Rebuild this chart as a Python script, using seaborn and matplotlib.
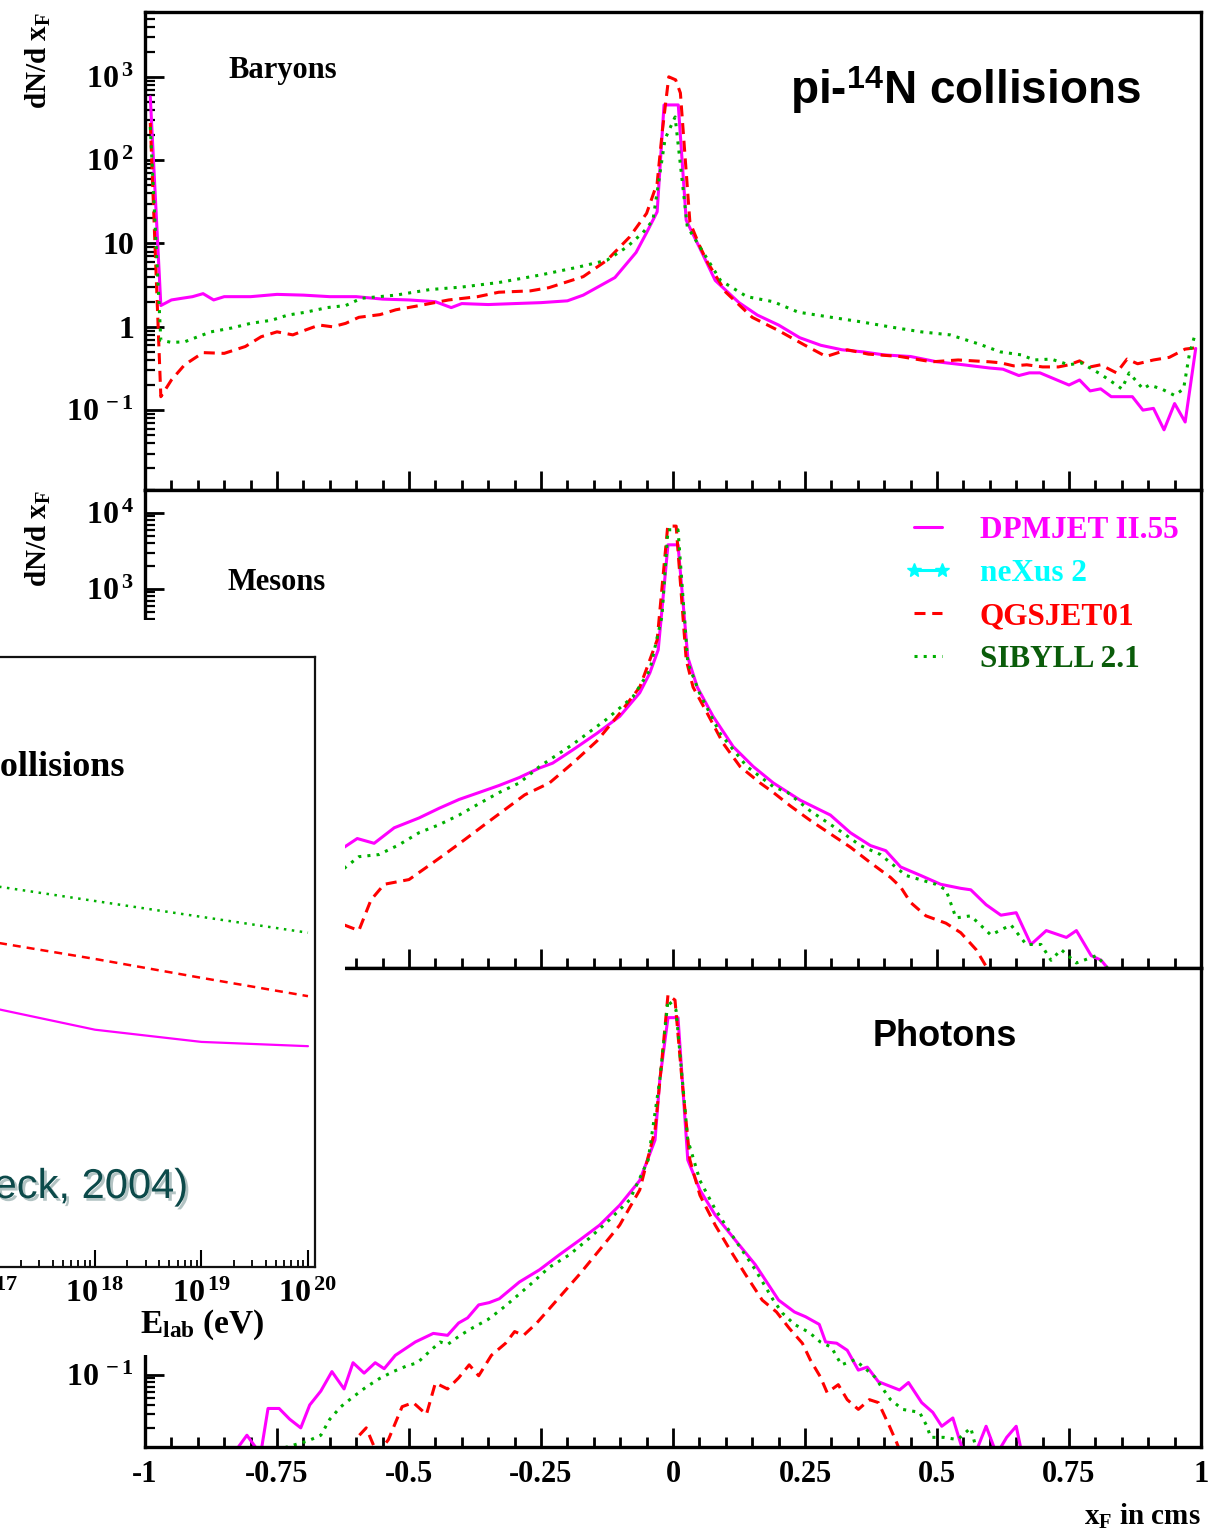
import numpy as np
import matplotlib
matplotlib.use("Agg")
import matplotlib.pyplot as plt
import matplotlib.ticker as mticker
import matplotlib.patheffects as pe
from matplotlib.lines import Line2D
from matplotlib.patches import Rectangle
import seaborn as sns

# ---------------- dN/dxF versus xF, pi-14N collisions ----------------
# Baryons
bar_x_dpm = [-0.99, -0.97, -0.95, -0.93, -0.91, -0.89, -0.87, -0.85, -0.80, -0.75,
             -0.70, -0.65, -0.60, -0.55, -0.50, -0.45, -0.42, -0.40, -0.35, -0.30,
             -0.25, -0.20, -0.17, -0.11, -0.07, -0.05, -0.03, -0.017, 0.01, 0.025,
             0.05, 0.08, 0.125, 0.16, 0.20, 0.24, 0.28, 0.32, 0.36, 0.40,
             0.45, 0.50, 0.55, 0.60, 0.625, 0.655, 0.675, 0.695, 0.75, 0.77,
             0.79, 0.81, 0.83, 0.87, 0.89, 0.91, 0.93, 0.95, 0.97, 0.99]
bar_dpm = [575, 1.8, 2.1, 2.2, 2.3, 2.5, 2.1, 2.3, 2.3, 2.45,
           2.4, 2.3, 2.3, 2.15, 2.1, 2.0, 1.7, 1.9, 1.85, 1.9,
           1.95, 2.05, 2.4, 3.9, 7.8, 13.5, 24, 460, 460, 19,
           9.0, 3.6, 1.95, 1.38, 1.05, 0.74, 0.60, 0.53, 0.50, 0.46,
           0.44, 0.38, 0.35, 0.32, 0.31, 0.26, 0.28, 0.28, 0.20, 0.23,
           0.17, 0.18, 0.145, 0.145, 0.10, 0.105, 0.058, 0.12, 0.072, 0.55]

bar_x_qgs = [-0.99, -0.97, -0.95, -0.925, -0.89, -0.85, -0.81, -0.78, -0.75, -0.72,
             -0.695, -0.67, -0.645, -0.62, -0.595, -0.555, -0.525, -0.48, -0.425, -0.37,
             -0.33, -0.27, -0.235, -0.17, -0.125, -0.082, -0.05, -0.03, -0.02, -0.008,
             0.005, 0.014, 0.032, 0.05, 0.065, 0.10, 0.15, 0.20, 0.25, 0.29,
             0.33, 0.37, 0.43, 0.49, 0.54, 0.60, 0.62, 0.645, 0.67, 0.70,
             0.73, 0.75, 0.77, 0.79, 0.81, 0.84, 0.86, 0.88, 0.91, 0.94,
             0.97, 0.99]
bar_qgs = [280, 0.145, 0.23, 0.35, 0.49, 0.48, 0.58, 0.76, 0.87, 0.80,
           0.92, 1.05, 1.0, 1.1, 1.3, 1.4, 1.6, 1.8, 2.1, 2.3,
           2.6, 2.7, 2.95, 4.0, 6.3, 12, 23, 53, 230, 1000,
           920, 640, 18, 9.5, 6.0, 2.6, 1.3, 0.90, 0.60, 0.44,
           0.53, 0.47, 0.44, 0.38, 0.40, 0.38, 0.37, 0.34, 0.35, 0.33,
           0.33, 0.35, 0.39, 0.33, 0.35, 0.28, 0.41, 0.36, 0.40, 0.43,
           0.54, 0.56]

bar_x_sib = [-0.99, -0.97, -0.95, -0.925, -0.90, -0.875, -0.835, -0.80, -0.76, -0.73,
             -0.695, -0.655, -0.62, -0.59, -0.525, -0.46, -0.40, -0.33, -0.25, -0.18,
             -0.125, -0.087, -0.057, -0.038, -0.015, 0.004, 0.027, 0.09, 0.14, 0.19,
             0.237, 0.30, 0.355, 0.41, 0.47, 0.525, 0.58, 0.62, 0.66, 0.684,
             0.716, 0.75, 0.773, 0.79, 0.81, 0.84, 0.85, 0.864, 0.89, 0.902,
             0.925, 0.95, 0.967, 0.978, 0.988]
bar_sib = [250, 0.69, 0.65, 0.66, 0.76, 0.87, 0.97, 1.1, 1.2, 1.38,
           1.5, 1.7, 1.8, 2.2, 2.4, 2.8, 3.0, 3.4, 4.2, 5.2,
           6.3, 9.1, 13.5, 19, 180, 330, 16, 3.6, 2.3, 2.0,
           1.5, 1.3, 1.15, 1.0, 0.87, 0.80, 0.62, 0.50, 0.46, 0.40,
           0.41, 0.35, 0.37, 0.32, 0.27, 0.20, 0.18, 0.28, 0.18, 0.20,
           0.18, 0.15, 0.18, 0.47, 0.78]

# Mesons
mes_x_dpm = [-0.625, -0.598, -0.566, -0.528, -0.481, -0.443, -0.405, -0.367, -0.329, -0.291,
             -0.253, -0.228, -0.19, -0.144, -0.101, -0.063, -0.044, -0.028, -0.0095, 0.0095,
             0.028, 0.046, 0.076, 0.114, 0.152, 0.19, 0.218, 0.241, 0.298, 0.336,
             0.374, 0.403, 0.431, 0.469, 0.507, 0.545, 0.564, 0.593, 0.621, 0.65,
             0.678, 0.707, 0.745, 0.764, 0.792, 0.811, 0.83]
mes_dpm = [0.39, 0.52, 0.45, 0.72, 0.97, 1.3, 1.7, 2.1, 2.6, 3.3,
           4.4, 5.1, 7.6, 12.6, 21, 43, 78, 158, 3800, 3800,
           126, 51, 21, 8.4, 4.6, 2.8, 2.1, 1.66, 1.06, 0.62,
           0.42, 0.36, 0.22, 0.17, 0.13, 0.115, 0.11, 0.07, 0.051, 0.055,
           0.021, 0.032, 0.026, 0.032, 0.015, 0.013, 0.009]

mes_x_qgs = [-0.623, -0.595, -0.572, -0.547, -0.50, -0.462, -0.433, -0.395, -0.357, -0.319,
             -0.281, -0.234, -0.19, -0.144, -0.101, -0.063, -0.049, -0.03, -0.01, 0.006,
             0.025, 0.038, 0.065, 0.095, 0.127, 0.165, 0.19, 0.222, 0.26, 0.298,
             0.336, 0.374, 0.412, 0.431, 0.45, 0.479, 0.517, 0.545, 0.574, 0.60]
mes_qgs = [0.038, 0.032, 0.081, 0.13, 0.15, 0.23, 0.32, 0.50, 0.79, 1.24,
           1.95, 2.8, 5.1, 10, 23, 51, 93, 213, 6700, 6700,
           117, 51, 23, 9.3, 4.6, 2.8, 2.1, 1.4, 0.90, 0.60,
           0.40, 0.25, 0.16, 0.12, 0.075, 0.05, 0.04, 0.03, 0.018, 0.009]

mes_x_sib = [-0.623, -0.595, -0.557, -0.519, -0.481, -0.443, -0.405, -0.367, -0.329, -0.291,
             -0.253, -0.19, -0.127, -0.076, -0.044, -0.021, -0.0095, 0.0095, 0.028, 0.05,
             0.089, 0.14, 0.19, 0.217, 0.26, 0.317, 0.355, 0.393, 0.441, 0.498,
             0.517, 0.536, 0.564, 0.602, 0.64, 0.669, 0.697, 0.716, 0.735, 0.764,
             0.802, 0.83]
mes_sib = [0.21, 0.30, 0.32, 0.43, 0.62, 0.79, 1.06, 1.5, 2.1, 2.8,
           4.6, 9.0, 19, 38, 85, 430, 6000, 6000, 107, 43,
           12.6, 4.6, 2.5, 2.1, 1.2, 0.65, 0.42, 0.32, 0.17, 0.13,
           0.11, 0.047, 0.05, 0.028, 0.038, 0.021, 0.021, 0.013, 0.018, 0.012,
           0.015, 0.009]

# Photons
pho_x_dpm = [-0.824, -0.807, -0.781, -0.767, -0.746, -0.726, -0.705, -0.688, -0.667, -0.646,
             -0.623, -0.606, -0.585, -0.564, -0.547, -0.526, -0.488, -0.454, -0.427, -0.406,
             -0.389, -0.368, -0.348, -0.329, -0.291, -0.253, -0.215, -0.177, -0.139, -0.101,
             -0.063, -0.034, -0.025, -0.0095, 0.0095, 0.028, 0.051, 0.08, 0.118, 0.156,
             0.20, 0.23, 0.251, 0.277, 0.289, 0.31, 0.33, 0.351, 0.368, 0.389,
             0.429, 0.446, 0.471, 0.492, 0.509, 0.53, 0.551, 0.572, 0.593, 0.613,
             0.632, 0.65, 0.661]
pho_dpm = [0.011, 0.016, 0.009, 0.036, 0.036, 0.026, 0.020, 0.040, 0.061, 0.11,
           0.065, 0.144, 0.105, 0.144, 0.12, 0.18, 0.27, 0.35, 0.33, 0.48,
           0.56, 0.83, 0.89, 1.0, 1.66, 2.4, 3.8, 5.9, 9.3, 17,
           36, 123, 760, 5000, 5000, 67, 27, 12.6, 5.9, 2.8,
           0.96, 0.67, 0.58, 0.46, 0.27, 0.26, 0.21, 0.115, 0.126, 0.081,
           0.063, 0.079, 0.043, 0.032, 0.021, 0.027, 0.009, 0.009, 0.021, 0.009,
           0.015, 0.021, 0.009]

pho_x_qgs = [-0.594, -0.581, -0.56, -0.539, -0.513, -0.492, -0.467, -0.45, -0.427, -0.406,
             -0.386, -0.368, -0.344, -0.317, -0.30, -0.283, -0.258, -0.224, -0.177, -0.139,
             -0.101, -0.063, -0.034, -0.021, -0.0095, 0.0038, 0.017, 0.032, 0.051, 0.08,
             0.108, 0.137, 0.169, 0.196, 0.22, 0.245, 0.26, 0.279, 0.292, 0.313,
             0.33, 0.351, 0.372, 0.389, 0.41, 0.424, 0.435]
pho_qgs = [0.016, 0.020, 0.009, 0.014, 0.038, 0.043, 0.030, 0.078, 0.065, 0.091,
           0.135, 0.097, 0.18, 0.26, 0.37, 0.33, 0.48, 0.89, 2.1, 4.4,
           9.3, 27, 166, 1380, 10000, 8500, 760, 67, 23, 9.3,
           4.4, 2.1, 0.96, 0.67, 0.41, 0.26, 0.157, 0.094, 0.058, 0.074,
           0.047, 0.035, 0.047, 0.043, 0.021, 0.0126, 0.008]

pho_x_sib = [-0.735, -0.691, -0.667, -0.65, -0.629, -0.606, -0.581, -0.556, -0.53, -0.505,
             -0.484, -0.462, -0.441, -0.427, -0.403, -0.378, -0.351, -0.327, -0.31, -0.272,
             -0.234, -0.196, -0.158, -0.12, -0.082, -0.047, -0.025, -0.0095, 0.0057, 0.028,
             0.051, 0.08, 0.118, 0.156, 0.19, 0.207, 0.23, 0.258, 0.279, 0.30,
             0.319, 0.344, 0.361, 0.382, 0.395, 0.412, 0.435, 0.467, 0.481, 0.488,
             0.513, 0.539, 0.564, 0.577]
pho_sib = [0.011, 0.0135, 0.016, 0.026, 0.038, 0.051, 0.069, 0.089, 0.11, 0.13,
           0.144, 0.20, 0.27, 0.25, 0.33, 0.42, 0.53, 0.71, 0.89, 1.5,
           2.6, 3.8, 6.3, 11, 20, 67, 760, 8500, 6300, 123,
           36, 15, 5.9, 2.4, 0.96, 0.65, 0.46, 0.36, 0.27, 0.23,
           0.135, 0.157, 0.126, 0.094, 0.069, 0.047, 0.035, 0.032, 0.021, 0.015,
           0.015, 0.014, 0.020, 0.009]

# Overlaid panel: inelasticity versus lab energy
ins_E = [1e17, 1e18, 1e19, 1e20]
ins_dpm = [0.426, 0.389, 0.369, 0.362]
ins_qgs = [0.534, 0.505, 0.474, 0.444]
ins_sib = [0.626, 0.600, 0.574, 0.548]

model_names = ["DPMJET II.55", "neXus 2", "QGSJET01", "SIBYLL 2.1"]
x_tick_values = [-1, -0.75, -0.5, -0.25, 0, 0.25, 0.5, 0.75, 1]
x_tick_labels = ["-1", "-0.75", "-0.5", "-0.25", "0", "0.25", "0.5", "0.75", "1"]

# ---------------- style ----------------
sns.set_theme(style="white")
plt.rcParams.update({
    "font.family": ["Liberation Serif", "DejaVu Serif"],
    "font.weight": "bold",
    "axes.labelweight": "bold",
    "text.color": "black",
    "axes.labelcolor": "black",
    "xtick.color": "black",
    "ytick.color": "black",
    "mathtext.fontset": "custom",
    "mathtext.rm": "Liberation Serif:bold",
    "mathtext.bf": "Liberation Serif:bold",
    "mathtext.it": "Liberation Serif:bold",
    "mathtext.sf": "Liberation Sans:bold",
    "mathtext.default": "bf",
    "axes.unicode_minus": False,
})

MAG, RED, CYAN, GRN, GRN_TXT = "#ff00ff", "#ff0000", "#00ffff", "#00b000", "#0a5c0a"
LW = 2.2
styles = {
    "dpm": dict(color=MAG, linestyle="-", linewidth=LW),
    "qgs": dict(color=RED, linestyle=(0, (3.6, 2.2)), linewidth=LW),
    "sib": dict(color=GRN, linestyle=(0, (1.0, 2.0)), linewidth=LW),
}

W, H = 1216, 1535
fig = plt.figure(figsize=(W / 100, H / 100), dpi=100)


def fx(px):
    return px / W


def fy(py):
    return 1 - py / H


x_left, x_right = 145, 1201
edges = [(12, 490), (490, 968), (968, 1447)]
ylims = [(0.011, 6000), (0.0103, 2.0e4), (0.0112, 2.25e4)]
panel_data = [
    [(bar_x_dpm, bar_dpm, "dpm"), (bar_x_qgs, bar_qgs, "qgs"), (bar_x_sib, bar_sib, "sib")],
    [(mes_x_dpm, mes_dpm, "dpm"), (mes_x_qgs, mes_qgs, "qgs"), (mes_x_sib, mes_sib, "sib")],
    [(pho_x_dpm, pho_dpm, "dpm"), (pho_x_qgs, pho_qgs, "qgs"), (pho_x_sib, pho_sib, "sib")],
]


def decade_label(v, pos):
    e = int(round(np.log10(v)))
    if e == 0:
        return "1"
    if e == 1:
        return "10"
    return r"$\mathbf{10^{\,%d}}$" % e


axes = []
for i, ((top, bot), ylim, series) in enumerate(zip(edges, ylims, panel_data)):
    ax = fig.add_axes([fx(x_left), fy(bot), (x_right - x_left) / W, (bot - top) / H])
    ax.set_yscale("log")
    ax.set_facecolor("white")
    for xs, ys, key in series:
        sns.lineplot(x=xs, y=ys, ax=ax, sort=False, errorbar=None, legend=False,
                     **styles[key])
    ax.set_xlim(-1, 1)
    ax.set_ylim(*ylim)
    for s in ax.spines.values():
        s.set_color("black")
        s.set_linewidth(2.4)
    ax.xaxis.set_major_locator(mticker.FixedLocator(x_tick_values))
    ax.xaxis.set_minor_locator(mticker.MultipleLocator(0.05))
    ax.yaxis.set_major_locator(mticker.LogLocator(base=10, numticks=20))
    ax.yaxis.set_minor_locator(mticker.LogLocator(base=10, subs=np.arange(2, 10), numticks=100))
    ax.yaxis.set_minor_formatter(mticker.NullFormatter())
    ax.yaxis.set_major_formatter(mticker.FuncFormatter(decade_label))
    ax.tick_params(axis="both", which="both", direction="in", colors="black",
                   bottom=True, left=True, top=False, right=False)
    ax.tick_params(axis="x", which="major", length=14, width=2.0, pad=9, labelsize=22)
    ax.tick_params(axis="x", which="minor", length=7, width=2.0)
    ax.tick_params(axis="y", which="major", length=14, width=2.0, pad=8, labelsize=23)
    ax.tick_params(axis="y", which="minor", length=7, width=1.6)
    if i < 2:
        ax.tick_params(axis="x", labelbottom=False)
    else:
        ax.xaxis.set_major_formatter(mticker.FixedFormatter(x_tick_labels))
        ax.set_xlabel(r"x$_{\mathbf{F}}$ in cms", fontsize=21, loc="right")
        ax.xaxis.set_label_coords(1.0, -0.115)
    ax.set_ylabel(r"dN/d x$_{\mathbf{F}}$", fontsize=21, loc="top")
    ax.yaxis.set_label_coords(-0.087, 1.0)
    axes.append(ax)

ax_bar, ax_mes, ax_pho = axes

ax_bar.text((228 - x_left) / (x_right - x_left), (490 - 71) / 478, "Baryons",
            transform=ax_bar.transAxes, ha="left", va="center", fontsize=22)
ax_mes.text((228 - x_left) / (x_right - x_left), (968 - 583) / 478, "Mesons",
            transform=ax_mes.transAxes, ha="left", va="center", fontsize=22)
ax_pho.text((873 - x_left) / (x_right - x_left), (1447 - 1037) / 479, "Photons",
            transform=ax_pho.transAxes, ha="left", va="center", fontsize=26,
            family="Liberation Sans", weight="bold")

fig.text(fx(790), fy(90), r"pi-$^{\mathsf{14}}$N collisions", ha="left", va="center",
         fontsize=33, family="Liberation Sans", weight="bold")

# legend of the generators
handles = [
    Line2D([], [], **styles["dpm"]),
    Line2D([], [], color=CYAN, linestyle="-", linewidth=LW, marker="*", markersize=10),
    Line2D([], [], **styles["qgs"]),
    Line2D([], [], **styles["sib"]),
]
leg = ax_mes.legend(handles, model_names, loc="upper left",
                    bbox_to_anchor=(fx(905), fy(516)), bbox_transform=fig.transFigure,
                    frameon=False, borderpad=0, borderaxespad=0, handlelength=1.5,
                    handletextpad=0.9, labelspacing=0.45, numpoints=2,
                    prop={"family": "Liberation Serif", "weight": "bold", "size": 22.5})
for txt, col in zip(leg.get_texts(), [MAG, CYAN, RED, GRN_TXT]):
    txt.set_color(col)

# white backing for the overlaid inelasticity panel
fig.add_artist(Rectangle((0, fy(1355)), fx(345), (1355 - 620) / H, transform=fig.transFigure,
                         facecolor="white", edgecolor="none", zorder=5))

ins_left_px, ins_right_px, ins_top_px, ins_bot_px = -200, 315, 657, 1267
ax_in = fig.add_axes([fx(ins_left_px), fy(ins_bot_px), (ins_right_px - ins_left_px) / W,
                      (ins_bot_px - ins_top_px) / H])
ax_in.set_zorder(6)
ax_in.set_facecolor("white")
ax_in.set_xscale("log")
sns.lineplot(x=ins_E, y=ins_sib, ax=ax_in, sort=False, errorbar=None, legend=False,
             color=GRN, linestyle=(0, (1.0, 2.2)), linewidth=1.8)
sns.lineplot(x=ins_E, y=ins_qgs, ax=ax_in, sort=False, errorbar=None, legend=False,
             color=RED, linestyle=(0, (3.2, 2.4)), linewidth=1.8)
sns.lineplot(x=ins_E, y=ins_dpm, ax=ax_in, sort=False, errorbar=None, legend=False,
             color=MAG, linestyle="-", linewidth=1.6)
ax_in.set_xlim(10 ** 15.23, 10 ** 20.066)
ax_in.set_ylim(0, 1)
ax_in.set_yticks([])
for s in ax_in.spines.values():
    s.set_color("#111111")
    s.set_linewidth(1.6)
ax_in.xaxis.set_major_locator(mticker.LogLocator(base=10, numticks=20))
ax_in.xaxis.set_minor_locator(mticker.LogLocator(base=10, subs=np.arange(2, 10), numticks=100))
ax_in.xaxis.set_minor_formatter(mticker.NullFormatter())
ax_in.xaxis.set_major_formatter(mticker.FuncFormatter(
    lambda v, p: r"$\mathbf{10^{\,%d}}$" % int(round(np.log10(v)))))
ax_in.tick_params(axis="x", which="both", direction="in", bottom=True, top=False,
                  colors="black")
ax_in.tick_params(axis="x", which="major", length=12, width=1.5, pad=9, labelsize=23)
ax_in.tick_params(axis="x", which="minor", length=5, width=1.3)
ax_in.set_xlabel(r"E$_{\mathbf{lab}}$ (eV)", fontsize=24, loc="right")
ax_in.xaxis.set_label_coords((265 - ins_left_px) / (ins_right_px - ins_left_px), -0.066)

fig.text(fx(125), fy(768), "p-Air collisions", ha="right", va="center", fontsize=26,
         zorder=7)
fig.text(fx(188), fy(1187), "(D. Heck, 2004)", ha="right", va="center", fontsize=30,
         family="Liberation Sans", weight="normal", color="#0c4a4a", zorder=7,
         path_effects=[pe.SimplePatchShadow(offset=(2, -2), shadow_rgbFace="#9fb4b4", alpha=0.8),
                       pe.Normal()])

fig.savefig("out.png", dpi=100)
